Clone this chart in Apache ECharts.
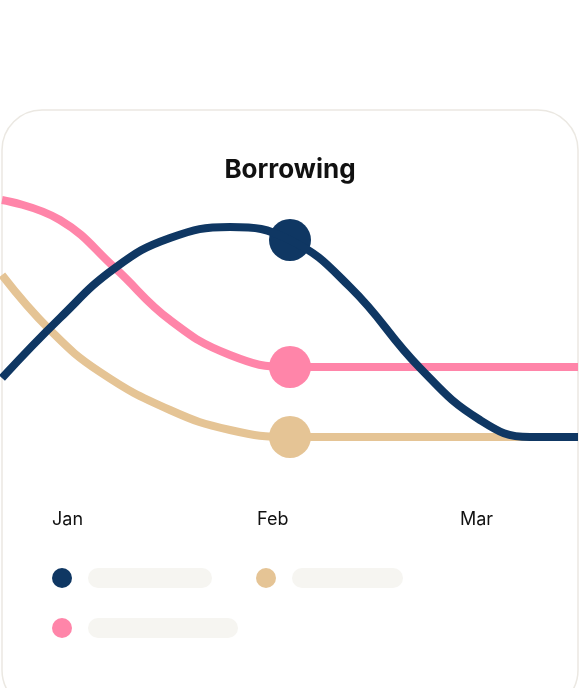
<!DOCTYPE html>
<html>
<head>
<meta charset="utf-8">
<script src="https://cdn.jsdelivr.net/npm/echarts@6/dist/echarts.min.js"></script>
<style>html,body{margin:0;padding:0;background:#fff}#main{width:580px;height:688px}</style>
</head>
<body>
<div id="main"></div>
<script>
// x positions along the card, y levels (larger = lower)
var navyData = [[2,378],[60,318],[115,268],[170,238],[230,227],[290,240],[350,287],[420,368],[480,420],[530,437],[578,437]];
var pinkData = [[2,200],[60,220],[115,268],[170,320],[230,355],[290,367],[578,367]];
var tanData = [[2,275],[50,330],[100,372],[170,410],[230,430],[290,437],[578,437]];
var markerX = 290;
var months = ['Jan', 'Feb', 'Mar'];
var monthX = [52, 257, 460];

var myChart = echarts.init(document.getElementById('main'));

function lineSeries(name, data, color){
    var pt = data.filter(function(d){ return d[0] === markerX; })[0];
    return {
        name: name, type: 'line', data: data, smooth: 0.45,
        symbol: 'none', lineStyle: {color: color, width: 8},
        z: name === 'navy' ? 5 : 3,
        markPoint: {
            symbol: 'circle', symbolSize: 42, label: {show: false},
            itemStyle: {color: color},
            data: [{coord: pt}]
        }
    };
}

var graphics = [{
    type: 'rect', z: -10, silent: true,
    shape: {x: 2, y: 110, width: 576, height: 600, r: 40},
    style: {fill: '#fff', stroke: '#ebe8e2', lineWidth: 1.5}
}];
months.forEach(function(m, i){
    graphics.push({type: 'text', x: monthX[i], y: 520,
        style: {text: m, fill: '#111', font: '18px Inter', textVerticalAlign: 'middle'}});
});
var legend = [[62,578,'#0f3763',88,124],[266,578,'#e5c495',292,111],[62,628,'#ff85a9',88,150]];
legend.forEach(function(l){
    graphics.push({type: 'circle', shape: {cx: l[0], cy: l[1], r: 10}, style: {fill: l[2]}});
    graphics.push({type: 'rect', shape: {x: l[3], y: l[1]-10, width: l[4], height: 20, r: 10}, style: {fill: '#f6f5f1'}});
});

var option = {
    animation: false,
    title: {text: 'Borrowing', left: 'center', top: 152,
        textStyle: {fontFamily: 'Inter', fontWeight: 'bold', fontSize: 26, color: '#111'}},
    grid: {left: 2, right: 2, top: 0, bottom: 0},
    xAxis: {type: 'value', min: 2, max: 578, show: false},
    yAxis: {type: 'value', min: 0, max: 688, inverse: true, show: false},
    graphic: graphics,
    series: [
        lineSeries('tan', tanData, '#e5c495'),
        lineSeries('pink', pinkData, '#ff85a9'),
        lineSeries('navy', navyData, '#0f3763')
    ]
};

myChart.setOption(option);
</script>
</body>
</html>
